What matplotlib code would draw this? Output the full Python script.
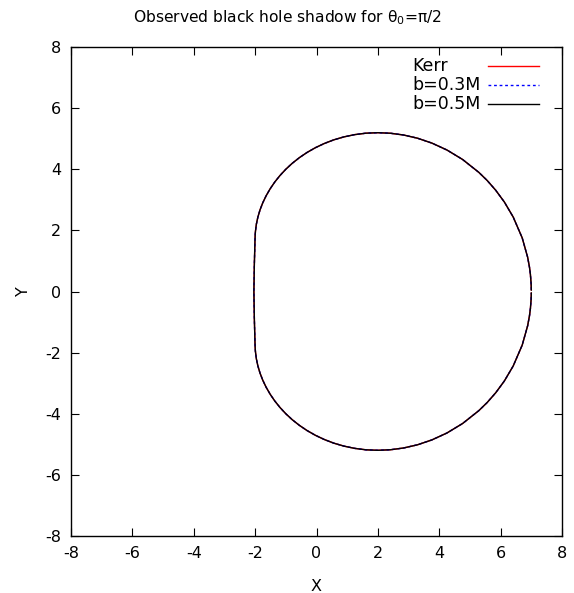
import matplotlib
matplotlib.use("Agg")
import matplotlib.pyplot as plt
from matplotlib.lines import Line2D

# Shadow contour (observer at theta0 = pi/2).
shadow_x = [7.000, 6.994, 6.970, 6.940, 6.880, 6.703, 6.410, 6.123, 5.840, 5.563,
            5.290, 4.760, 4.250, 3.760, 3.290, 2.840, 2.410, 2.000, 1.610, 1.240,
            0.890, 0.560, 0.250, -0.040, -0.310, -0.560, -0.790, -1.000, -1.190, -1.360,
            -1.510, -1.640, -1.750, -1.840, -1.910, -1.960, -1.990, -1.998, -2.005,
            -2.025, -2.040, -2.025,
            -2.005, -1.998, -1.990, -1.960, -1.910, -1.840, -1.750, -1.640, -1.510, -1.360,
            -1.190, -1.000, -0.790, -0.560, -0.310, -0.040, 0.250, 0.560, 0.890, 1.240,
            1.610, 2.000, 2.410, 2.840, 3.290, 3.760, 4.250, 4.760, 5.290, 5.563,
            5.840, 6.123, 6.410, 6.703, 6.880, 6.940, 6.970, 6.994, 7.000]
shadow_y = [0.050, 0.253, 0.565, 0.797, 1.123, 1.755, 2.436, 2.926, 3.313, 3.631,
            3.898, 4.320, 4.630, 4.856, 5.016, 5.120, 5.178, 5.196, 5.180, 5.132,
            5.058, 4.961, 4.841, 4.703, 4.548, 4.378, 4.195, 4.000, 3.795, 3.582,
            3.361, 3.135, 2.905, 2.671, 2.436, 2.200, 1.965, 1.848, 1.650,
            0.900, 0.000, -0.900,
            -1.650, -1.848, -1.965, -2.200, -2.436, -2.671, -2.905, -3.135, -3.361, -3.582,
            -3.795, -4.000, -4.195, -4.378, -4.548, -4.703, -4.841, -4.961, -5.058, -5.132,
            -5.180, -5.196, -5.178, -5.120, -5.016, -4.856, -4.630, -4.320, -3.898, -3.631,
            -3.313, -2.926, -2.436, -1.755, -1.123, -0.797, -0.565, -0.253, -0.050]

series_labels = ["Kerr", "b=0.3M", "b=0.5M"]
xticks = [-8, -6, -4, -2, 0, 2, 4, 6, 8]
yticks = [-8, -6, -4, -2, 0, 2, 4, 6, 8]

plt.rcParams['font.family'] = ['DejaVu Sans']

W, H = 574, 593
fig = plt.figure(figsize=(W / 100, H / 100), dpi=100)
L, R, T, B = 71, 562, 47, 536
ax = fig.add_axes([L / W, 1 - B / H, (R - L) / W, (B - T) / H])

styles = [dict(color='red', lw=1.0, ls='-'),
          dict(color='blue', lw=1.0, ls=(0, (2, 2))),
          dict(color='black', lw=1.0, ls='-')]
for lab, st in zip(series_labels, styles):
    ax.plot(shadow_x, shadow_y, label=lab, **st)

ax.set_xlim(-8, 8)
ax.set_ylim(-8, 8)
ax.set_xticks(xticks)
ax.set_yticks(yticks)
ax.set_xticklabels([str(t) for t in xticks])
ax.set_yticklabels([str(t) for t in yticks])
ax.tick_params(direction='in', length=6, width=0.8, top=True, right=True,
               labelsize=11.5, pad=7)
for s in ax.spines.values():
    s.set_linewidth(1.0)

ax.set_xlabel('X', fontsize=11.5, labelpad=13)
ax.set_ylabel('Y', fontsize=11.5, labelpad=10)
fig.text(0.5, 1 - 18 / H, r'Observed black hole shadow for $\mathregular{\theta_0}$=π/2',
         ha='center', va='center', fontsize=11.2)

# legend: left-aligned labels, samples to the right (gnuplot style)
ly = [66, 85, 104]
for lab, st, yy in zip(series_labels, styles, ly):
    fig.text(412 / W, 1 - yy / H, lab, ha='left', va='center', fontsize=12.5)
    fig.add_artist(Line2D([488 / W, 539 / W], [1 - yy / H, 1 - yy / H],
                          transform=fig.transFigure, **st))

fig.savefig('out.png', dpi=100)
